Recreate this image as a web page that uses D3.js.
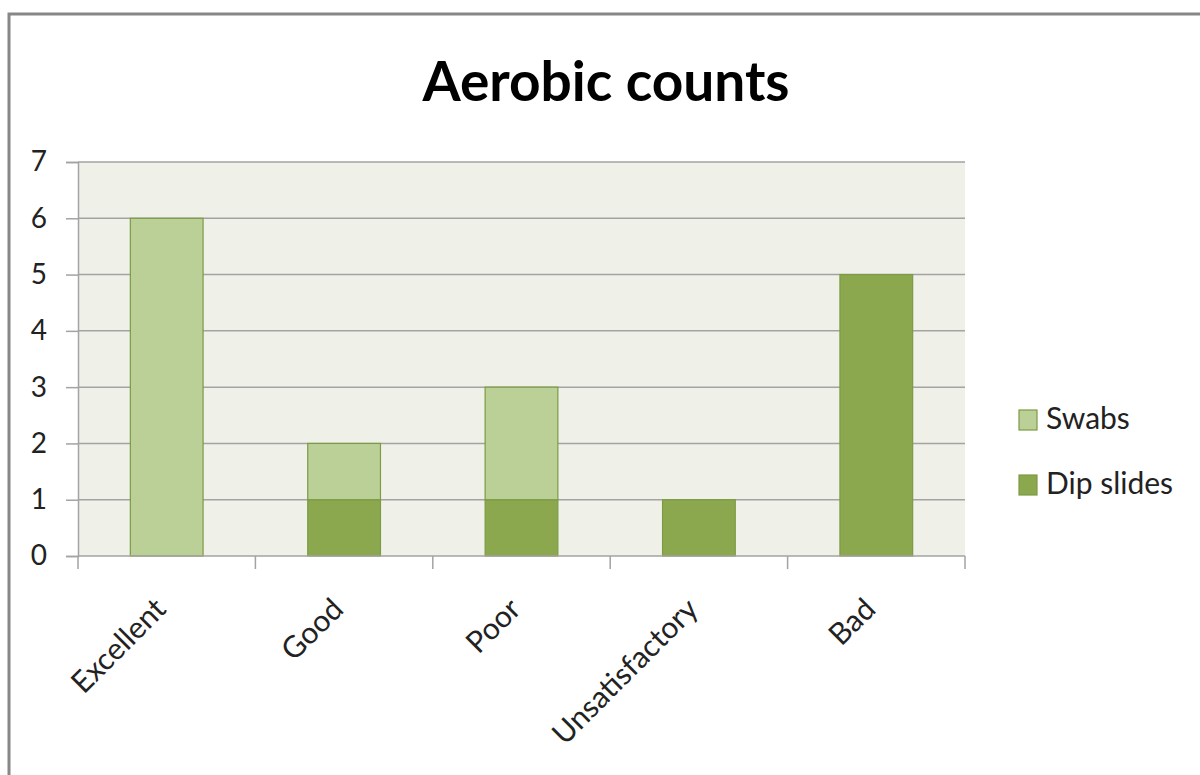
<!DOCTYPE html>
<html>
<head>
<meta charset="utf-8">
<script src="https://cdn.jsdelivr.net/npm/d3@7"></script>
<style>
  html, body { margin: 0; padding: 0; background: #fff; }
  svg { display: block; }
</style>
</head>
<body>
<svg id="chart" width="1200" height="775"></svg>
<script>
// Aerobic counts by hygiene rating, stacked by sampling method
const categories = ["Excellent", "Good", "Poor", "Unsatisfactory", "Bad"];
const dipSlides = [0, 1, 1, 1, 5];
const swabs = [6, 1, 2, 0, 0];
const yTicks = [0, 1, 2, 3, 4, 5, 6, 7];
const seriesNames = ["Dip slides", "Swabs"];
const seriesColors = { "Dip slides": "#8ba84e", "Swabs": "#bad097" };
const seriesStroke = "#7d9a45";

const svg = d3.select("#chart");
const font = "Lato, 'Open Sans', sans-serif";

// outer chart frame
svg.append("rect")
  .attr("x", 9).attr("y", 14)
  .attr("width", 1300).attr("height", 900)
  .attr("fill", "#fff")
  .attr("stroke", "#878787").attr("stroke-width", 3);

const plot = { left: 78, right: 965, top: 162, bottom: 556 };

const x = d3.scaleBand()
  .domain(categories)
  .range([plot.left, plot.right])
  .paddingInner(0.59).paddingOuter(0.295);

const y = d3.scaleLinear().domain([0, 7]).range([plot.bottom, plot.top]);

// plot background
svg.append("rect")
  .attr("x", plot.left).attr("y", plot.top)
  .attr("width", plot.right - plot.left).attr("height", plot.bottom - plot.top)
  .attr("fill", "#eff1e9");

// gridlines
svg.append("g").selectAll("line")
  .data(yTicks.filter(d => d > 0))
  .join("line")
  .attr("x1", plot.left).attr("x2", plot.right)
  .attr("y1", d => y(d)).attr("y2", d => y(d))
  .attr("stroke", "#a3a3a3").attr("stroke-width", 1.5);

// stacked bars
const rows = categories.map((c, i) => ({ category: c, "Dip slides": dipSlides[i], "Swabs": swabs[i] }));
const stacked = d3.stack().keys(seriesNames)(rows);

svg.append("g").selectAll("g")
  .data(stacked)
  .join("g")
  .attr("fill", d => seriesColors[d.key])
  .selectAll("rect")
  .data(d => d.filter(s => s[1] - s[0] > 0))
  .join("rect")
  .attr("x", d => x(d.data.category))
  .attr("width", x.bandwidth())
  .attr("y", d => y(d[1]))
  .attr("height", d => y(d[0]) - y(d[1]))
  .attr("stroke", seriesStroke).attr("stroke-width", 1.2);

// y axis
const yAxis = svg.append("g")
  .attr("transform", `translate(${plot.left},0)`)
  .call(d3.axisLeft(y).tickValues(yTicks).tickSize(12).tickPadding(19).tickFormat(d3.format("d")));
yAxis.select(".domain").attr("stroke", "#a3a3a3").attr("stroke-width", 1.5);
yAxis.selectAll(".tick line").attr("stroke", "#a3a3a3").attr("stroke-width", 1.5);
yAxis.selectAll(".tick text")
  .attr("font-family", font).attr("font-size", 28).attr("fill", "#222");

// x axis with boundary ticks between categories
const xAxisG = svg.append("g").attr("transform", `translate(0,${plot.bottom})`);
xAxisG.append("line")
  .attr("x1", plot.left).attr("x2", plot.right)
  .attr("stroke", "#a3a3a3").attr("stroke-width", 1.5);
const bounds = d3.range(categories.length + 1).map(i => plot.left + i * (plot.right - plot.left) / categories.length);
xAxisG.selectAll("line.bound")
  .data(bounds)
  .join("line")
  .attr("class", "bound")
  .attr("x1", d => d).attr("x2", d => d)
  .attr("y1", 0).attr("y2", 13)
  .attr("stroke", "#a3a3a3").attr("stroke-width", 1.5);

xAxisG.selectAll("text")
  .data(categories)
  .join("text")
  .attr("transform", d => `translate(${x(d) + x.bandwidth() / 2 + 1},${55}) rotate(-45)`)
  .attr("text-anchor", "end")
  .attr("font-family", font).attr("font-size", 30).attr("fill", "#222")
  .text(d => d);

// title
svg.append("text")
  .attr("x", 606).attr("y", 101)
  .attr("text-anchor", "middle")
  .attr("font-family", font).attr("font-weight", 700).attr("font-size", 55)
  .attr("fill", "#000")
  .text("Aerobic counts");

// legend
const legendItems = ["Swabs", "Dip slides"];
const legend = svg.append("g").selectAll("g")
  .data(legendItems)
  .join("g")
  .attr("transform", (d, i) => `translate(1019,${410 + i * 65})`);
legend.append("rect")
  .attr("width", 18).attr("height", 20)
  .attr("fill", d => seriesColors[d])
  .attr("stroke", seriesStroke).attr("stroke-width", 1.2);
legend.append("text")
  .attr("x", 27).attr("y", 19)
  .attr("font-family", font).attr("font-size", 30).attr("fill", "#222")
  .text(d => d);
</script>
</body>
</html>
